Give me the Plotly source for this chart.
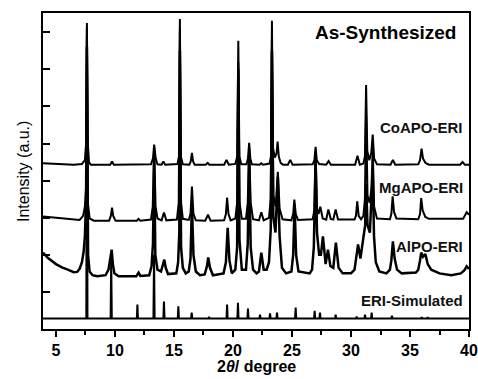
import plotly.graph_objects as go

# ---- data (2theta in degrees, intensity in a.u., curves offset vertically) ----
coapo = [
    (3.9, 4.47), (5.0, 4.45), (6.5, 4.43), (7.2, 4.45), (7.45, 4.55), (7.55, 5.0), (7.62, 8.25), (7.7, 5.0), (7.8, 4.5), (7.95, 4.43),
    (9.6, 4.43), (9.75, 4.52), (9.9, 4.43),
    (13.05, 4.44), (13.22, 4.6), (13.32, 4.97), (13.45, 4.6), (13.6, 4.44),
    (13.95, 4.43), (14.1, 4.52), (14.25, 4.43),
    (15.3, 4.45), (15.42, 4.65), (15.5, 8.36), (15.58, 4.65), (15.75, 4.44),
    (16.3, 4.43), (16.42, 4.52), (16.52, 4.75), (16.62, 4.52), (16.75, 4.43),
    (17.7, 4.43), (17.85, 4.48), (18.0, 4.43),
    (19.25, 4.43), (19.45, 4.56), (19.65, 4.43),
    (20.2, 4.45), (20.36, 4.65), (20.45, 7.77), (20.54, 4.65), (20.7, 4.44),
    (21.15, 4.44), (21.27, 4.6), (21.37, 5.02), (21.47, 4.6), (21.6, 4.44),
    (22.25, 4.43), (22.4, 4.47), (22.55, 4.43),
    (23.1, 4.46), (23.22, 4.65), (23.3, 8.31), (23.38, 4.9), (23.55, 4.62), (23.7, 4.75), (23.78, 5.05), (23.88, 4.65), (24.05, 4.47), (24.25, 4.43),
    (24.65, 4.43), (24.85, 4.56), (25.05, 4.43),
    (26.75, 4.44), (26.9, 4.55), (27.0, 4.91), (27.1, 4.55), (27.3, 4.45),
    (27.9, 4.43), (28.1, 4.53), (28.3, 4.43),
    (30.35, 4.43), (30.55, 4.67), (30.75, 4.43),
    (31.05, 4.46), (31.18, 4.65), (31.28, 6.58), (31.38, 4.8), (31.55, 4.55), (31.72, 4.75), (31.84, 5.24), (31.96, 4.6), (32.2, 4.44),
    (33.35, 4.43), (33.55, 4.56), (33.75, 4.43),
    (35.7, 4.44), (35.85, 4.55), (35.98, 4.86), (36.1, 4.6), (36.3, 4.48), (36.6, 4.43),
    (39.25, 4.43), (39.45, 4.5), (39.65, 4.43), (40.0, 4.43),
]

mgapo = [
    (3.9, 3.03), (5.0, 3.0), (6.0, 2.96), (7.0, 2.94), (7.3, 3.05), (7.45, 3.3), (7.55, 3.8), (7.62, 7.9), (7.7, 3.4), (7.85, 2.98), (8.2, 2.92),
    (9.5, 2.92), (9.65, 3.05), (9.75, 3.27), (9.85, 3.05), (10.05, 2.92),
    (11.85, 2.92), (12.0, 2.97), (12.15, 2.92),
    (13.05, 2.95), (13.2, 3.3), (13.32, 4.9), (13.44, 3.3), (13.6, 2.98),
    (13.95, 2.93), (14.15, 3.14), (14.35, 2.93),
    (15.25, 2.95), (15.4, 3.4), (15.5, 8.1), (15.6, 3.4), (15.75, 2.97),
    (16.25, 2.94), (16.4, 3.1), (16.52, 3.84), (16.65, 3.1), (16.85, 2.93),
    (17.65, 2.92), (17.88, 3.08), (18.1, 2.92),
    (19.25, 2.93), (19.4, 3.1), (19.5, 3.54), (19.62, 3.1), (19.8, 2.93),
    (20.2, 2.98), (20.35, 3.4), (20.45, 7.2), (20.56, 3.4), (20.75, 2.97),
    (21.1, 2.97), (21.25, 3.4), (21.37, 4.9), (21.5, 3.4), (21.7, 2.96),
    (22.2, 2.93), (22.4, 3.15), (22.6, 2.93),
    (23.05, 3.0), (23.2, 3.5), (23.3, 7.8), (23.42, 3.6), (23.62, 3.3), (23.8, 4.24), (23.95, 3.25), (24.2, 2.96),
    (24.95, 2.93), (25.1, 3.1), (25.2, 3.49), (25.32, 3.1), (25.5, 2.94),
    (26.75, 2.96), (26.9, 3.2), (27.0, 4.8), (27.12, 3.25), (27.25, 3.1), (27.4, 3.3), (27.6, 2.98),
    (27.9, 2.95), (28.08, 3.22), (28.28, 2.97), (28.5, 2.95), (28.7, 3.22), (28.9, 2.95),
    (30.3, 2.95), (30.42, 3.05), (30.53, 3.44), (30.65, 3.05), (30.85, 2.96),
    (31.05, 3.05), (31.18, 3.5), (31.28, 5.8), (31.4, 3.6), (31.58, 3.4), (31.74, 3.8), (31.84, 4.9), (31.96, 3.3), (32.2, 2.98),
    (33.3, 2.96), (33.42, 3.1), (33.53, 3.58), (33.65, 3.15), (33.85, 2.98),
    (35.7, 2.96), (35.85, 3.1), (35.95, 3.53), (36.07, 3.2), (36.3, 3.02), (36.6, 2.97),
    (39.5, 2.97), (39.8, 3.15), (40.0, 3.08),
]

alpo = [
    (3.9, 2.06), (4.3, 1.92), (5.0, 1.75), (5.5, 1.66), (6.0, 1.6), (6.5, 1.53), (6.8, 1.54), (7.0, 1.62), (7.2, 1.8), (7.35, 2.1),
    (7.45, 2.5), (7.55, 3.5), (7.62, 7.6), (7.72, 2.0), (7.85, 1.55), (8.1, 1.45), (8.5, 1.42),
    (9.2, 1.45), (9.45, 1.6), (9.6, 1.85), (9.72, 2.14), (9.82, 1.75), (9.95, 1.5), (10.3, 1.42),
    (11.8, 1.42), (12.0, 1.52), (12.15, 1.43),
    (12.9, 1.45), (13.1, 1.7), (13.22, 2.3), (13.32, 4.6), (13.42, 2.0), (13.6, 1.6), (13.9, 1.55),
    (14.05, 1.7), (14.18, 1.87), (14.3, 1.65), (14.5, 1.48),
    (15.2, 1.5), (15.35, 1.8), (15.45, 2.6), (15.5, 7.5), (15.6, 2.2), (15.75, 1.65), (16.0, 1.5),
    (16.25, 1.55), (16.4, 1.9), (16.52, 3.35), (16.65, 2.0), (16.85, 1.55), (17.2, 1.45),
    (17.6, 1.47), (17.8, 1.7), (17.9, 1.93), (18.05, 1.65), (18.3, 1.45),
    (19.2, 1.5), (19.4, 1.8), (19.55, 2.73), (19.7, 1.85), (19.9, 1.5),
    (20.2, 1.6), (20.35, 2.2), (20.45, 7.0), (20.55, 2.4), (20.75, 1.6),
    (21.1, 1.6), (21.25, 2.3), (21.37, 4.7), (21.5, 2.2), (21.7, 1.6), (22.0, 1.5),
    (22.2, 1.55), (22.4, 2.06), (22.6, 1.6), (22.85, 1.6),
    (23.05, 1.8), (23.2, 2.7), (23.3, 7.5), (23.42, 3.0), (23.6, 2.6), (23.8, 4.1), (23.95, 2.5), (24.15, 1.65), (24.5, 1.5),
    (24.95, 1.55), (25.1, 2.0), (25.22, 3.35), (25.35, 2.0), (25.55, 1.55), (26.5, 1.5),
    (26.7, 1.6), (26.85, 2.2), (27.0, 4.6), (27.12, 2.6), (27.3, 2.0),
    (27.45, 2.0), (27.62, 2.5), (27.85, 1.75), (28.05, 2.14), (28.25, 1.7),
    (28.5, 1.65), (28.72, 2.33), (28.95, 1.65), (29.3, 1.5), (30.0, 1.5),
    (30.3, 1.6), (30.6, 2.28), (30.8, 1.9), (31.1, 2.68),
    (31.2, 2.8), (31.28, 3.9), (31.4, 2.8), (31.6, 2.6), (31.75, 3.5), (31.84, 4.3), (31.95, 2.5), (32.1, 1.8), (32.4, 1.55), (33.0, 1.5),
    (33.3, 1.6), (33.42, 1.85), (33.55, 2.36), (33.7, 1.9), (33.9, 1.6), (34.3, 1.5), (35.5, 1.52),
    (35.7, 1.6), (35.85, 1.85), (35.95, 2.06), (36.1, 1.95), (36.3, 2.02), (36.5, 1.75), (36.8, 1.6), (37.5, 1.5), (38.5, 1.45), (39.3, 1.5),
    (39.6, 1.58), (39.8, 1.69), (40.0, 1.62),
]

# simulated ERI reflections (stick pattern)
sim_base = 0.28
sim_pos = [7.62, 9.68, 11.9, 13.31, 14.15, 15.37, 16.5, 17.97, 19.5, 20.42, 21.27, 22.29,
           23.14, 23.73, 25.31, 26.92, 27.37, 28.7, 30.48, 31.19, 31.75, 33.47, 36.0, 36.5]
sim_top = [8.1, 1.9, 0.66, 2.0, 0.74, 0.61, 0.44, 0.33, 0.66, 0.71, 0.55, 0.39,
           0.42, 0.44, 0.58, 0.49, 0.44, 0.39, 0.34, 0.39, 0.44, 0.36, 0.32, 0.32]
stick_half = 0.05

labels = ["CoAPO-ERI", "MgAPO-ERI", "AlPO-ERI", "ERI-Simulated"]
label_y = [5.43, 3.82, 2.22, 0.77]
x_ticks = [5, 10, 15, 20, 25, 30, 35, 40]

# ---- build traces ----
sim_x, sim_y = [3.9], [sim_base]
for p, t in zip(sim_pos, sim_top):
    sim_x += [p - stick_half, p, p + stick_half]
    sim_y += [sim_base, t, sim_base]
sim_x.append(40.0)
sim_y.append(sim_base)

fig = go.Figure()
for data, w in [(alpo, 2.5), (mgapo, 2.0), (coapo, 2.0)]:
    fig.add_trace(go.Scatter(x=[d[0] for d in data], y=[d[1] for d in data], mode="lines",
                             line=dict(color="black", width=w), showlegend=False, hoverinfo="skip"))
fig.add_trace(go.Scatter(x=sim_x, y=sim_y, mode="lines",
                         line=dict(color="black", width=2.0), showlegend=False, hoverinfo="skip"))

FONT = "Liberation Sans, Arial, sans-serif"
ann = []
for t, y in zip(labels, label_y):
    ann.append(dict(x=39.66, y=y, xref="x", yref="y", text=t, showarrow=False,
                    xanchor="right", yanchor="middle",
                    font=dict(family=FONT, size=15, color="#111", weight="bold")))
ann.append(dict(x=0.974, y=0.937, xref="paper", yref="paper", text="As-Synthesized", showarrow=False,
                xanchor="right", yanchor="middle",
                font=dict(family=FONT, size=19, color="black", weight="bold")))
ann.append(dict(x=0.5, y=-0.119, xref="paper", yref="paper", text="2<i>θ</i>/ degree", showarrow=False,
                xanchor="center", yanchor="middle",
                font=dict(family=FONT, size=16, color="black", weight="bold")))
ann.append(dict(x=-0.047, y=0.5, xref="paper", yref="paper", text="Intensity (a.u.)", showarrow=False,
                textangle=-90, xanchor="center", yanchor="middle",
                font=dict(family=FONT, size=16, color="black")))

fig.update_layout(
    width=478, height=379,
    margin=dict(l=43, r=9, t=13, b=50, autoexpand=False),
    paper_bgcolor="white", plot_bgcolor="white",
    annotations=ann,
    xaxis=dict(range=[3.9, 40.0], tickvals=x_ticks, ticktext=[str(v) for v in x_ticks],
               automargin=False,
               ticks="outside", ticklen=6, tickwidth=1.5, tickcolor="black",
               minor=dict(ticks="outside", ticklen=4, tickwidth=1.5, tickcolor="black", dtick=2.5, tick0=2.5),
               showline=True, linecolor="black", linewidth=2, mirror=True,
               showgrid=False, zeroline=False,
               tickfont=dict(family=FONT, size=16, color="black", weight="bold")),
    yaxis=dict(range=[0, 8.52], dtick=1, tick0=0, ticks="inside", ticklen=7, tickwidth=1.5,
               tickcolor="black", showticklabels=False, automargin=False,
               showline=True, linecolor="black", linewidth=2, mirror=True,
               showgrid=False, zeroline=False),
)

fig.write_html("out.html")
